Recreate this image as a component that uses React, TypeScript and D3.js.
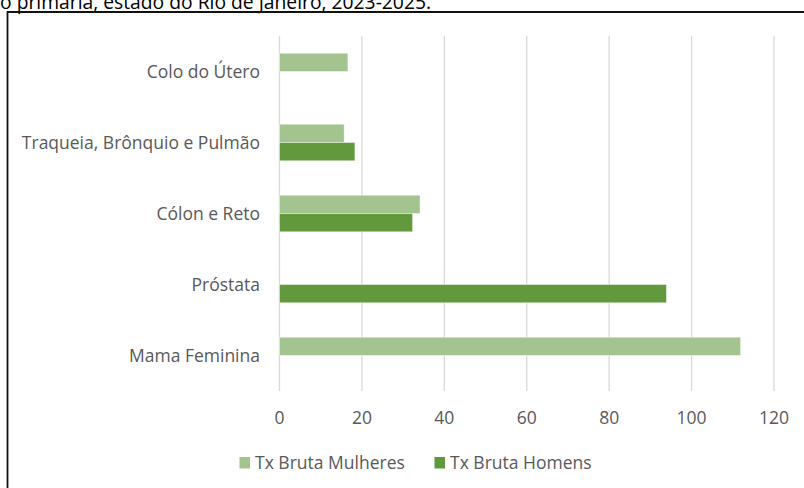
import React from "react";
import * as d3 from "d3";

const categories = ["Colo do Útero", "Traqueia, Brônquio e Pulmão", "Cólon e Reto", "Próstata", "Mama Feminina"];
const seriesNames = ["Tx Bruta Mulheres", "Tx Bruta Homens"];
const mulheres: (number | null)[] = [16.6, 15.7, 34.1, null, 111.9];
const homens: (number | null)[] = [null, 18.3, 32.3, 93.9, null];
const xTicks = [0, 20, 40, 60, 80, 100, 120];
const titleText = "o primária, estado do Rio de Janeiro, 2023-2025.";

const colors = ["#A3C48F", "#63993D"];
const FONT = "'Open Sans', sans-serif";
const FS = 17.5;

export default function App() {
  const W = 804, H = 488;
  const x = d3.scaleLinear().domain([0, 120]).range([279.5, 774]);
  const y = d3.scaleBand().domain(categories).range([36, 391]);
  const barH = 18.3;
  const series = [mulheres, homens];

  return (
    <svg width={W} height={H} style={{ position: "fixed", left: 0, top: 0, background: "#fff" }} fontFamily={FONT}>
      <rect x={0} y={0} width={W} height={H} fill="#fff" />
      <text x={431} y={8.5} textAnchor="end" fontSize={19.3} fill="#000">{titleText}</text>
      <line x1={7.5} x2={7.5} y1={11.5} y2={H} stroke="#111" strokeWidth={1.8} />
      <line x1={7} x2={W} y1={12} y2={12} stroke="#111" strokeWidth={1.8} />
      {xTicks.map((t) => (
        <line key={"g" + t} x1={x(t)} x2={x(t)} y1={36} y2={391} stroke="#D9D9D9" strokeWidth={1.3} />
      ))}
      {categories.map((c, i) => {
        const cy = (y(c) as number) + y.bandwidth() / 2;
        return (
          <g key={c}>
            {series.map((s, si) => {
              const v = s[i];
              if (v == null) return null;
              const top = si === 0 ? cy - barH : cy;
              return (
                <rect key={si} x={x(0)} y={top} width={x(v) - x(0)} height={barH}
                  fill={colors[si]} stroke="#fff" strokeOpacity={0.6} strokeWidth={0.75} />
              );
            })}
            <text x={260} y={cy} dy="0.35em" textAnchor="end" fontSize={FS} fill="#595959">{c}</text>
          </g>
        );
      })}
      {xTicks.map((t) => (
        <text key={"t" + t} x={x(t)} y={418} dy="0.35em" textAnchor="middle" fontSize={FS} fill="#595959">{t}</text>
      ))}
      {seriesNames.map((n, i) => {
        const lx = [239.5, 434.5][i];
        return (
          <g key={n}>
            <rect x={lx} y={457} width={10.5} height={11.5} fill={colors[i]} />
            <text x={lx + 15.5} y={463} dy="0.35em" fontSize={FS} fill="#595959">{n}</text>
          </g>
        );
      })}
    </svg>
  );
}
